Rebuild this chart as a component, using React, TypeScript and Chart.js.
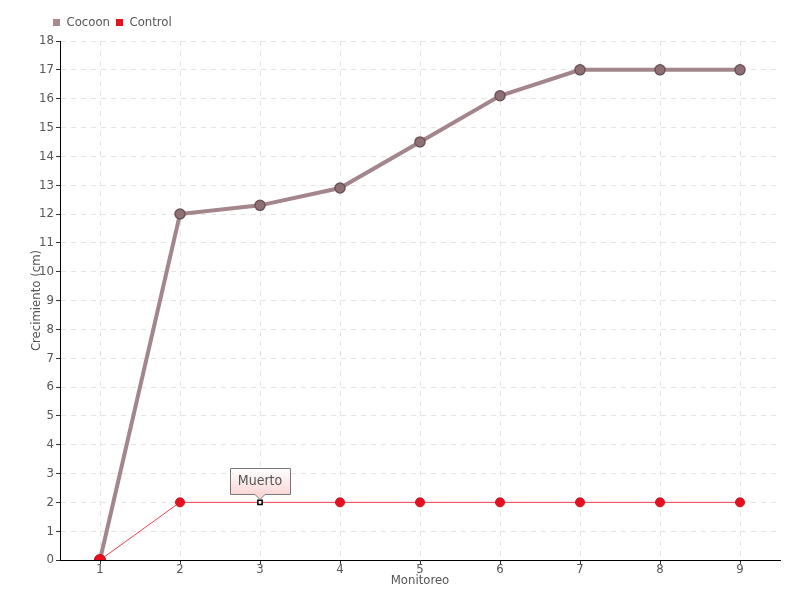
import React, { useEffect, useRef } from "react";
import { Chart, registerables } from "chart.js";

Chart.register(...registerables);

const categories = ["1", "2", "3", "4", "5", "6", "7", "8", "9"];
const cocoonValues = [0, 12, 12.3, 12.9, 14.5, 16.1, 17, 17, 17];
const controlValues = [0, 2, 2, 2, 2, 2, 2, 2, 2];
const annotationIndex = 2;
const annotationText = "Muerto";
const yTitle = "Crecimiento (cm)";
const xTitle = "Monitoreo";

const FONT = "'DejaVu Sans Condensed', 'DejaVu Sans', sans-serif";
const TEXT = "#555555";

const annotationPlugin = {
  id: "muerto",
  afterLayout(chart: any) {
    const lg = chart.legend;
    if (lg) {
      lg.left += 18;
      lg.right += 18;
      lg.top -= 2;
      lg.bottom -= 2;
    }
  },
  afterDatasetsDraw(chart: any) {
    const meta = chart.getDatasetMeta(1);
    const el = meta.data[annotationIndex];
    if (!el) return;
    const ctx = chart.ctx;
    const px = el.x;
    const py = el.y;
    ctx.save();
    ctx.font = `14px ${FONT}`;
    const tw = ctx.measureText(annotationText).width;
    const w = Math.round(tw + 16);
    const h = 26;
    const left = Math.round(px - w / 2) + 0.5;
    const bottom = Math.round(py - 8) + 0.5;
    const top = bottom - h;
    const g = ctx.createLinearGradient(0, top, 0, bottom);
    g.addColorStop(0, "#ffffff");
    g.addColorStop(1, "#fbd6d6");
    ctx.beginPath();
    ctx.moveTo(left, top);
    ctx.lineTo(left + w, top);
    ctx.lineTo(left + w, bottom);
    ctx.lineTo(px + 5, bottom);
    ctx.lineTo(px, bottom + 5);
    ctx.lineTo(px - 5, bottom);
    ctx.lineTo(left, bottom);
    ctx.closePath();
    ctx.fillStyle = g;
    ctx.fill();
    ctx.strokeStyle = "#777777";
    ctx.lineWidth = 1;
    ctx.stroke();
    ctx.fillStyle = TEXT;
    ctx.textAlign = "center";
    ctx.textBaseline = "middle";
    ctx.fillText(annotationText, px, top + h / 2);
    ctx.restore();
  },
};

export default function App() {
  const ref = useRef<HTMLCanvasElement | null>(null);
  useEffect(() => {
    document.body.style.margin = "0";
    const canvas = ref.current!;
    const gridCommon: any = {
      color: "#e4e4e4",
      tickLength: 4,
      tickColor: "#333333",
      tickBorderDash: [],
    };
    const chart = new Chart(canvas, {
      type: "line",
      data: {
        labels: categories,
        datasets: [
          {
            label: "Cocoon",
            data: cocoonValues,
            borderColor: "#a3868b",
            backgroundColor: "#a88a8e",
            borderWidth: 4,
            pointRadius: 5,
            pointBackgroundColor: "#8f7075",
            pointBorderColor: "#6e5358",
            pointBorderWidth: 1.5,
            tension: 0,
            order: 1,
          },
          {
            label: "Control",
            data: controlValues,
            borderColor: "#f2404d",
            backgroundColor: "#e8101f",
            borderWidth: 1,
            pointRadius: controlValues.map((_, i) => (i === 0 ? 5.5 : i === annotationIndex ? 3 : 4.5)),
            pointStyle: controlValues.map((_, i) => (i === annotationIndex ? "rect" : "circle")) as any,
            pointBackgroundColor: controlValues.map((_, i) => (i === annotationIndex ? "#ffffff" : "#e8101f")),
            pointBorderColor: controlValues.map((_, i) => (i === annotationIndex ? "#000000" : "#c8101c")),
            pointBorderWidth: controlValues.map((_, i) => (i === annotationIndex ? 1.5 : 1)),
            tension: 0,
            order: 0,
          },
        ],
      },
      options: {
        responsive: false,
        animation: false,
        layout: { padding: { left: 29, right: 20, top: 12, bottom: 0 } },
        plugins: {
          legend: {
            position: "top",
            align: "start",
            labels: {
              boxWidth: 7,
              boxHeight: 7,
              padding: 6,
              color: TEXT,
              font: { family: FONT, size: 13 },
              sort: (a: any, b: any) => a.datasetIndex - b.datasetIndex,
              generateLabels: (c: any) =>
                Chart.defaults.plugins.legend.labels.generateLabels(c).map((l: any) => ({
                  ...l,
                  lineWidth: 0,
                  strokeStyle: "rgba(0,0,0,0)",
                })),
            },
          },
          tooltip: { enabled: false },
        },
        scales: {
          x: {
            offset: true,
            grid: { ...gridCommon, offset: false },
            border: { color: "#000000", width: 1, dash: [5, 5] } as any,
            ticks: { color: TEXT, font: { family: FONT, size: 13 }, padding: -2 },
            title: {
              display: true,
              text: xTitle,
              color: TEXT,
              font: { family: FONT, size: 13 },
              padding: { top: 0, bottom: 12 },
            },
            afterFit: (s: any) => {
              s.height = 40;
            },
          },
          y: {
            min: 0,
            max: 18,
            ticks: { stepSize: 1, color: TEXT, font: { family: FONT, size: 13 }, padding: 2 },
            grid: gridCommon,
            border: { color: "#000000", width: 1, dash: [5, 5] } as any,
            title: { display: true, text: yTitle, color: TEXT, font: { family: FONT, size: 13 }, padding: 0 },
            afterFit: (s: any) => {
              s.width = 31;
            },
          },
        },
      },
      plugins: [annotationPlugin],
    });
    return () => chart.destroy();
  }, []);
  return (
    <div style={{ position: "fixed", left: 0, top: 0, width: 800, height: 600, background: "#fff" }}>
      <canvas ref={ref} width={800} height={600} />
    </div>
  );
}
